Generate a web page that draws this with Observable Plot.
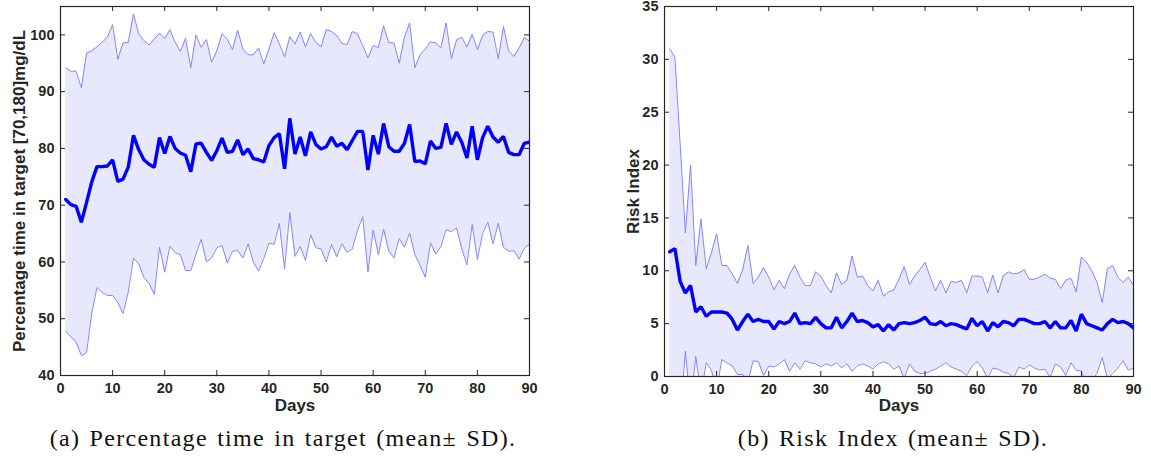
<!DOCTYPE html>
<html>
<head>
<meta charset="utf-8">
<script src="https://cdn.jsdelivr.net/npm/d3@7"></script>
<script src="https://cdn.jsdelivr.net/npm/@observablehq/plot@0.6"></script>
<style>
  html, body { margin: 0; padding: 0; background: #fff; }
  #root { position: relative; width: 1151px; height: 465px; overflow: hidden; background: #fff; }
  .panel { position: absolute; top: 0; }
  .caption { position: absolute; top: 425px; font-family: "Liberation Serif", "DejaVu Serif", serif; font-size: 24px; line-height: 26px; color: #111; white-space: nowrap; transform: translateX(-50%); letter-spacing: 1.3px; word-spacing: 2px; }
</style>
</head>
<body>
<div id="root">
  <div id="pa" class="panel" style="left:0px"></div>
  <div id="pb" class="panel" style="left:575px"></div>
  <div class="caption" style="left:283px">(a) Percentage time in target (mean± SD).</div>
  <div class="caption" style="left:893px">(b) Risk Index (mean± SD).</div>
</div>
<script>
// ---- data ----
const days = d3.range(1, 91);
const xTicks = [0, 10, 20, 30, 40, 50, 60, 70, 80, 90];
const xLabel = "Days";

const tirLabel = "Percentage time in target [70,180]mg/dL";
const tirTicks = [40, 50, 60, 70, 80, 90, 100];
const tirMean = [71.0,70.1,69.8,67.0,70.5,74.1,76.8,76.8,76.9,78.0,
  74.2,74.6,76.7,82.3,79.8,78.0,77.2,76.7,81.9,79.1,
  82.1,80.0,79.2,78.8,75.9,80.8,80.9,79.3,77.9,79.6,
  81.8,79.3,79.5,81.5,78.9,79.9,78.2,78.0,77.6,80.5,
  81.9,82.6,76.4,85.3,79.0,82.0,78.7,82.9,80.7,79.9,
  80.3,82.0,80.4,80.9,79.8,81.4,83.0,83.0,76.2,82.3,
  79.0,84.4,80.3,79.5,79.5,80.9,84.2,77.7,77.8,77.3,
  81.3,80.0,80.2,84.4,80.7,82.9,81.1,78.3,83.9,78.0,
  81.9,83.9,82.0,81.1,82.1,79.3,78.9,78.9,80.9,81.1];
const tirUpper = [94.2,93.6,93.6,90.7,96.8,97.2,97.9,98.7,99.6,101.8,
  95.7,98.6,98.7,103.7,100.2,99.0,98.2,99.3,100.3,99.4,
  100.9,98.7,97.1,99.4,94.2,100.0,97.8,99.2,95.2,97.2,
  100.2,99.3,97.4,100.8,97.5,96.5,96.5,97.7,94.9,97.5,
  100.4,98.4,96.1,99.7,98.4,100.5,97.9,100.2,98.7,97.9,
  100.9,100.6,99.9,98.5,98.3,100.6,100.2,98.1,96.0,98.1,
  97.8,101.6,98.6,98.6,95.0,99.6,102.1,94.2,96.5,97.5,
  98.8,98.6,97.7,102.1,95.8,99.1,99.6,97.9,100.1,97.4,
  99.9,100.6,100.5,95.8,101.5,97.2,96.2,97.7,99.5,98.9];
const tirLower = [47.8,46.8,45.9,43.5,44.0,51.0,55.5,54.6,54.1,54.1,
  52.9,50.9,54.7,60.7,59.7,57.3,56.2,54.3,62.6,58.2,
  62.8,61.6,61.3,58.5,58.5,61.4,64.0,60.0,60.7,62.5,
  62.9,59.8,61.9,62.0,60.7,63.2,60.0,58.4,60.6,63.3,
  63.1,66.8,58.8,68.7,61.0,62.7,60.3,64.8,62.5,62.3,
  60.0,63.1,60.9,63.2,61.7,62.3,65.6,68.0,58.2,65.6,
  61.3,65.8,61.9,60.7,64.1,62.6,65.1,61.3,59.4,57.3,
  63.4,61.4,62.7,65.7,65.3,66.0,62.3,59.5,66.6,60.4,
  65.0,67.0,63.2,66.8,62.6,61.9,62.0,60.5,62.4,63.2];

const riLabel = "Risk Index";
const riTicks = [0, 5, 10, 15, 20, 25, 30, 35];
const riMean = [11.8,12.1,9.0,7.9,8.6,6.1,6.6,5.7,6.1,6.1,
  6.1,6.0,5.4,4.4,5.2,5.9,5.2,5.4,5.2,5.2,
  4.5,5.2,5.0,5.2,6.0,5.0,5.1,5.0,5.6,5.0,
  4.6,4.6,5.6,4.6,5.2,6.0,5.2,5.3,5.1,4.7,
  4.9,4.3,4.9,4.4,5.0,5.1,5.0,5.1,5.3,5.6,
  5.0,4.9,5.2,4.8,5.0,4.9,4.7,4.5,5.5,4.8,
  5.2,4.3,5.1,4.7,5.2,5.1,4.8,5.4,5.4,5.2,
  5.0,5.0,5.2,4.6,5.2,4.6,4.6,5.3,4.3,5.9,
  5.0,4.8,4.6,4.4,5.0,5.4,5.1,5.2,5.0,4.6];
const riUpper = [31.0,30.2,22.0,13.6,20.0,10.5,14.9,10.2,11.7,13.5,
  10.5,10.5,9.7,8.8,10.1,12.4,8.8,9.4,10.3,9.4,
  8.2,9.1,8.3,9.7,10.5,9.4,8.6,8.6,9.9,9.5,
  8.6,7.9,9.8,8.7,9.1,11.4,9.4,9.5,8.6,8.1,
  9.1,7.6,8.0,8.2,9.2,10.4,8.7,9.5,10.1,10.8,
  9.4,8.1,9.1,7.9,9.0,8.9,9.1,7.9,9.5,9.5,
  9.4,7.9,9.6,7.9,9.5,9.9,9.7,9.8,10.1,9.2,
  9.2,9.4,9.7,9.3,9.2,8.3,9.1,9.3,8.0,11.3,
  10.8,10.0,8.9,7.0,10.2,10.5,9.4,8.9,9.4,8.6];
const riLower = [-7.4,-6.0,-4.0,2.4,-2.8,1.9,-1.7,1.3,0.6,-1.3,
  1.6,1.3,1.0,0.2,0.2,-0.6,1.5,1.4,0.1,1.0,
  0.9,1.2,1.6,0.5,1.3,0.7,1.5,1.3,1.2,0.9,
  1.2,1.0,1.3,0.8,1.2,0.5,1.0,1.2,1.0,0.7,
  1.2,1.4,1.2,0.7,1.0,-0.2,1.2,0.5,0.3,0.3,
  0.5,0.7,1.0,1.3,0.9,0.7,0.5,0.1,1.0,1.4,
  0.8,-0.2,0.8,0.7,0.4,0.3,-0.1,0.9,0.7,1.1,
  0.8,0.6,0.7,-0.1,1.2,0.9,0.1,1.3,0.6,0.5,
  -0.8,-0.4,0.3,1.8,-0.2,0.3,0.8,1.5,0.6,0.8];

// ---- drawing ----
const AX = "#262626";
function panel({width, height, marginLeft, marginRight, marginTop, marginBottom, yDomain, yTicks, yLabel, yLabelDx, xLabelDy, mean, upper, lower}) {
  const data = days.map((d, i) => ({day: d, mean: mean[i], upper: upper[i], lower: lower[i]}));
  const innerW = width - marginLeft - marginRight;
  const innerH = height - marginTop - marginBottom;
  const tl = 5;
  return Plot.plot({
    width, height, marginLeft, marginRight, marginTop, marginBottom,
    style: {fontFamily: "'Liberation Sans', Arial, sans-serif", fontSize: "14.5px", fontWeight: "bold", color: AX, background: "white", overflow: "visible"},
    x: {domain: [0, 90]},
    y: {domain: yDomain},
    marks: [
      Plot.areaY(data, {x: "day", y1: "lower", y2: "upper", fill: "#e8e8fc", clip: true}),
      Plot.lineY(data, {x: "day", y: "upper", stroke: "#8585ff", strokeWidth: 1, clip: true}),
      Plot.lineY(data, {x: "day", y: "lower", stroke: "#8585ff", strokeWidth: 1, clip: true}),
      Plot.lineY(data, {x: "day", y: "mean", stroke: "#0000ff", strokeWidth: 3.4, strokeLinejoin: "miter", clip: true}),
      Plot.tickX(xTicks, {x: d => d, stroke: AX, insetTop: innerH - tl}),
      Plot.tickX(xTicks, {x: d => d, stroke: AX, insetBottom: innerH - tl}),
      Plot.tickY(yTicks, {y: d => d, stroke: AX, insetRight: innerW - tl}),
      Plot.tickY(yTicks, {y: d => d, stroke: AX, insetLeft: innerW - tl}),
      Plot.frame({stroke: AX, strokeWidth: 1.2}),
      Plot.axisX(xTicks, {tickSize: 0, tickPadding: 7, label: null, fill: AX}),
      Plot.axisY(yTicks, {tickSize: 0, tickPadding: 6, label: null, fill: AX}),
      Plot.text([yLabel], {text: d => d, frameAnchor: "left", rotate: -90, lineAnchor: "top", textAnchor: "middle", dx: yLabelDx, fontSize: 17, fontWeight: "bold", fill: AX}),
      Plot.text([xLabel], {text: d => d, frameAnchor: "bottom", lineAnchor: "top", textAnchor: "middle", dy: xLabelDy, fontSize: 17, fontWeight: "bold", fill: AX})
    ]
  });
}

document.getElementById("pa").append(panel({
  width: 575, height: 420, marginLeft: 60, marginRight: 46, marginTop: 6, marginBottom: 45,
  yDomain: [40, 105], yTicks: tirTicks, yLabel: tirLabel, yLabelDx: -48, xLabelDy: 23,
  mean: tirMean, upper: tirUpper, lower: tirLower
}));
document.getElementById("pb").append(panel({
  width: 576, height: 420, marginLeft: 89, marginRight: 18, marginTop: 6, marginBottom: 44,
  yDomain: [0, 35], yTicks: riTicks, yLabel: riLabel, yLabelDx: -38, xLabelDy: 22,
  mean: riMean, upper: riUpper, lower: riLower
}));
</script>
</body>
</html>
